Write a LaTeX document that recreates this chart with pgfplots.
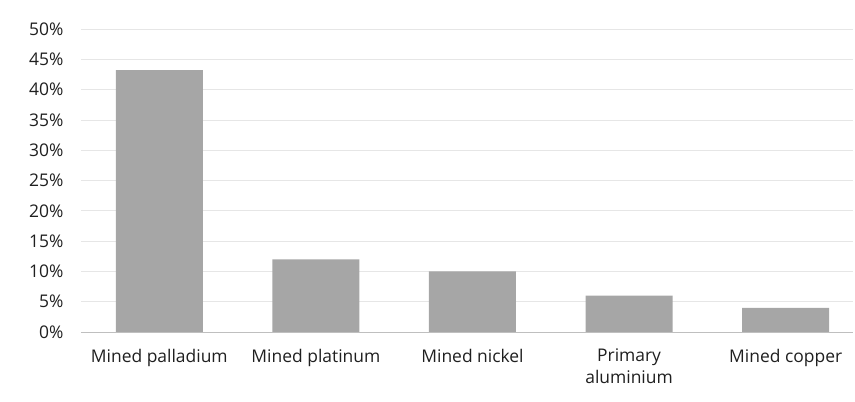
\documentclass[border=0pt]{standalone}
\usepackage{pgfplots}
\pgfplotsset{compat=1.18}
\usepackage{fontspec}
\setmainfont{Open Sans}

\definecolor{bargray}{HTML}{A6A6A6}
\definecolor{gridgray}{HTML}{E6E6E6}
\definecolor{axisgray}{HTML}{BFBFBF}
\definecolor{txt}{HTML}{1F1F1F}

\begin{document}
\begin{tikzpicture}[x=1bp,y=1bp]
\useasboundingbox (-81,-69) rectangle (774,332);
\begin{axis}[
  at={(0,0)}, anchor=south west,
  scale only axis,
  width=772bp, height=303bp,
  xmin=-0.5, xmax=4.43,
  ymin=0, ymax=50,
  ytick={0,5,...,50},
  yticklabel={\pgfmathprintnumber{\tick}\%},
  /pgf/number format/assume math mode=true,
  ymajorgrids,
  major grid style={gridgray, line width=0.8bp},
  axis line style={draw=none},
  y axis line style={draw=none},
  ytick style={draw=none},
  yticklabel style={font=\fontsize{17.5}{20}\selectfont, text=txt, xshift=-14bp},
  xtick={0,1,2,3,4},
  xticklabels={Mined palladium, Mined platinum, Mined nickel, {Primary\\aluminium}, Mined copper},
  xticklabel style={font=\fontsize{17.5}{22}\selectfont, text=txt, align=center, yshift=-9bp},
  major x tick style={draw=none},
  extra x ticks={-0.5,0.5,1.5,2.5,3.5},
  extra x tick labels={},
  extra x tick style={tick align=outside, major tick length=6bp,
    tick style={draw=axisgray, line width=0.8bp}},
  xtick pos=bottom,
  ybar, bar width=87bp,
  clip=false,
]
\addplot[fill=bargray, draw=none] coordinates {(0,43.2) (1,12.0) (2,10.0) (3,6.0) (4,4.0)};
\draw[axisgray, line width=0.8bp] (axis cs:-0.5,0) -- (axis cs:4.43,0);
\end{axis}
\end{tikzpicture}
\end{document}
